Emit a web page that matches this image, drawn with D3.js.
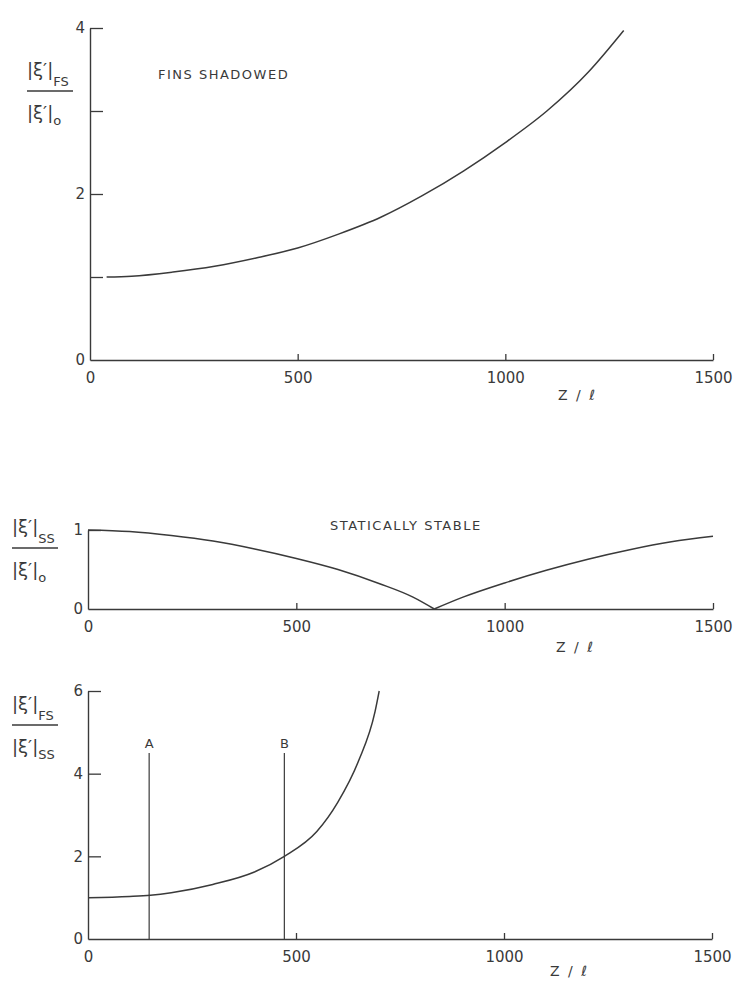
<!DOCTYPE html>
<html><head><meta charset="utf-8">
<script src="https://cdn.jsdelivr.net/npm/d3@7"></script>
<style>
body{margin:0;background:#fff;}
svg text{font-family:"DejaVu Sans",sans-serif;fill:#3a3a3a;}
</style></head>
<body><svg id="c" width="748" height="996"></svg>
<script>
// ---- data ----
const xTicks = [0, 500, 1000, 1500];
// Panel 1: fins shadowed  |xi'|FS / |xi'|0
const fsZ   = [40, 100, 200, 300, 400, 500, 600, 700, 800, 900, 1000, 1100, 1200, 1285];
const fsVal = [1.00, 1.01, 1.06, 1.13, 1.23, 1.35, 1.52, 1.72, 1.98, 2.28, 2.62, 3.00, 3.47, 3.97];
const fsYTicks = [0, 1, 2, 3, 4];
const fsYLabels = ["0", "", "2", "", "4"];
// Panel 2: statically stable |xi'|SS / |xi'|0 (two branches meeting at the zero)
const ssZLeft    = [0, 100, 200, 300, 400, 500, 600, 700, 780, 831];
const ssValLeft  = [1.00, 0.98, 0.93, 0.86, 0.76, 0.64, 0.50, 0.32, 0.15, 0.00];
const ssZRight   = [831, 900, 1000, 1100, 1200, 1300, 1400, 1500];
const ssValRight = [0.00, 0.15, 0.33, 0.49, 0.63, 0.75, 0.85, 0.92];
const ssYTicks = [0, 1];
const ssYLabels = ["0", "1"];
// Panel 3: ratio |xi'|FS / |xi'|SS
const rZ   = [0, 100, 150, 200, 300, 400, 472, 550, 600, 650, 690, 700];
const rVal = [1.00, 1.03, 1.06, 1.12, 1.32, 1.62, 2.00, 2.60, 3.30, 4.30, 5.50, 6.00];
const rYTicks = [0, 2, 4, 6];
const rYLabels = ["0", "2", "4", "6"];
const markers = [{name: "A", z: 147, top: 4.5}, {name: "B", z: 472, top: 4.5}];

const svg = d3.select("#c");
const ink = "#3a3a3a";

function panel(o){
  const x = d3.scaleLinear().domain([0,1500]).range(o.xr);
  const y = d3.scaleLinear().domain(o.yd).range(o.yr);
  const g = svg.append("g");
  const xa = g.append("g").attr("transform",`translate(0,${o.yr[0]})`)
    .call(d3.axisBottom(x).tickValues(xTicks).tickSizeInner(-6).tickSizeOuter(0).tickPadding(12).tickFormat(d3.format("d")));
  const ya = g.append("g").attr("transform",`translate(${o.xr[0]},0)`)
    .call(d3.axisLeft(y).tickValues(o.yt).tickSizeInner(-13).tickSizeOuter(0).tickPadding(5).tickFormat((d,i)=>o.yl[i]));
  [xa,ya].forEach(a=>{
    a.select(".domain").attr("stroke",ink).attr("stroke-width",1.4);
    a.selectAll(".tick line").attr("stroke",ink).attr("stroke-width",1.3);
    a.selectAll(".tick text").attr("font-size",15).attr("fill",ink).attr("font-family","DejaVu Sans, sans-serif");
  });
  ya.selectAll(".tick").filter(d=>d===0).select("line").remove();
  xa.selectAll(".tick").filter(d=>d===0).select("line").remove();
  const line = d3.line().x(d=>x(d[0])).y(d=>y(d[1])).curve(d3.curveMonotoneX);
  o.series.forEach(s=>{
    const pts = s.z.map((z,i)=>[z,s.v[i]]);
    g.append("path").datum(pts)
      .attr("fill","none").attr("stroke",ink).attr("stroke-width",1.5).attr("d", line);
  });
  g.append("text").attr("x",o.zl[0]).attr("y",o.zl[1]).attr("font-size",14).attr("letter-spacing","2px").text("Z / ℓ");
  return {x,y,g};
}

function fracLabel(x0, yLine, num, den){
  const g = svg.append("g");
  const t1 = g.append("text").attr("x",x0).attr("y",yLine-15).attr("font-size",18);
  t1.append("tspan").text("|ξ′|");
  t1.append("tspan").attr("dy",10).attr("font-size",13).text(num);
  g.append("line").attr("x1",x0).attr("x2",x0+46).attr("y1",yLine).attr("y2",yLine).attr("stroke",ink).attr("stroke-width",1.5);
  const t2 = g.append("text").attr("x",x0).attr("y",yLine+28).attr("font-size",18);
  t2.append("tspan").text("|ξ′|");
  t2.append("tspan").attr("dy",6).attr("font-size",13).text(den);
}

const p1 = panel({xr:[90,713], yd:[0,4], yr:[360,28], yt:fsYTicks, yl:fsYLabels,
  series:[{z:fsZ, v:fsVal}], zl:[558,400]});
p1.g.append("text").attr("x",158).attr("y",79).attr("font-size",13).attr("letter-spacing","1.5px").text("FINS SHADOWED");
fracLabel(27, 91, "FS", "o");

const p2 = panel({xr:[88,713], yd:[0,1], yr:[609,530], yt:ssYTicks, yl:ssYLabels,
  series:[{z:ssZLeft, v:ssValLeft},{z:ssZRight, v:ssValRight}], zl:[556,652]});
p2.g.append("text").attr("x",330).attr("y",530).attr("font-size",13).attr("letter-spacing","1.5px").text("STATICALLY  STABLE");
fracLabel(12, 548, "SS", "o");

const p3 = panel({xr:[88,712], yd:[0,6], yr:[939,691], yt:rYTicks, yl:rYLabels,
  series:[{z:rZ, v:rVal}], zl:[550,976]});
fracLabel(12, 725, "FS", "SS");
markers.forEach(m=>{
  p3.g.append("line").attr("x1",p3.x(m.z)).attr("x2",p3.x(m.z)).attr("y1",p3.y(m.top)).attr("y2",p3.y(0))
    .attr("stroke",ink).attr("stroke-width",1.2);
  p3.g.append("text").attr("x",p3.x(m.z)).attr("y",p3.y(m.top)-5).attr("text-anchor","middle").attr("font-size",13).text(m.name);
});
</script></body></html>
